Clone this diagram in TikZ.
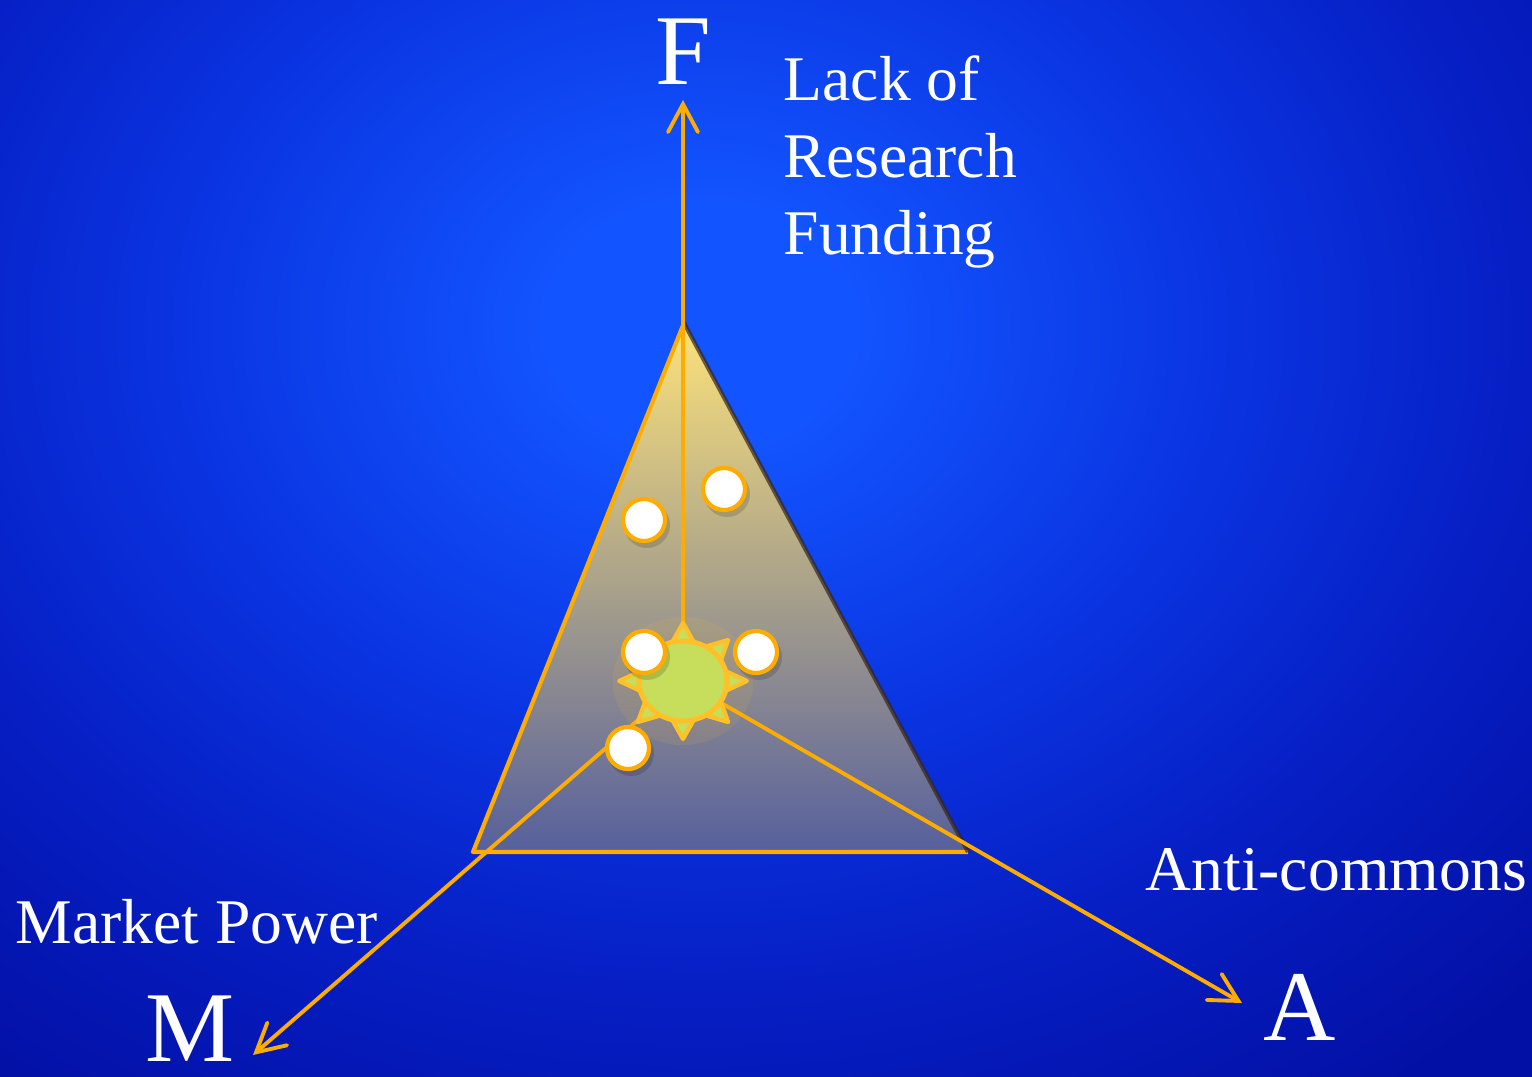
\documentclass[tikz,border=0pt]{standalone}
\usepackage{fontspec}
\setmainfont{Liberation Serif}
\usetikzlibrary{arrows.meta}
\definecolor{bgin}{RGB}{18,84,255}
\definecolor{bgmid}{RGB}{10,52,225}
\definecolor{bgout}{RGB}{6,30,195}
\definecolor{bgedge}{RGB}{3,16,165}
\definecolor{axorange}{RGB}{255,172,0}
\definecolor{triyellow}{RGB}{252,226,122}
\definecolor{trigray}{RGB}{170,164,138}
\definecolor{triblue}{RGB}{86,96,156}
\definecolor{sungreen}{RGB}{198,222,92}
\definecolor{sunrim}{RGB}{255,192,40}
\pgfdeclareradialshading{bgshade}{\pgfpoint{0cm}{0cm}}{color(0bp)=(bgin); color(3bp)=(bgin); color(10bp)=(bgmid); color(16bp)=(bgout); color(22.5bp)=(bgedge); color(50bp)=(bgedge)}

\begin{document}
\begin{tikzpicture}[
  axis/.style={draw=axorange, line width=1.1pt,
               -{Straight Barb[length=2.8mm, width=3.0mm, line cap=round]}},
  dot/.style={circle, fill=white, draw=axorange, line width=1.2pt,
              minimum size=0.42cm, inner sep=0pt},
  ray/.style={fill=sungreen, draw=sunrim, line width=1.2pt, line join=round},
  biglab/.style={font=\fontsize{28.5}{34}\selectfont, text=white, inner sep=0pt},
  lab/.style={font=\fontsize{18.1}{21.9}\selectfont, text=white, inner sep=0pt, align=left}
]
\useasboundingbox (0,0) rectangle (15.32,10.76);

% Background
\begin{scope}
  \clip (0,0) rectangle (15.32,10.76);
  \shade[shading=bgshade] (7.0,7.5) ellipse (13 and 10.5);
\end{scope}

% Corners
\coordinate (top) at (6.84,7.53);
\coordinate (bl)  at (4.73,2.24);
\coordinate (br)  at (9.68,2.24);
\coordinate (o)   at (6.83,3.95);
\coordinate (ftip) at (6.83,9.76);
\coordinate (mtip) at (2.53,0.21);
\coordinate (atip) at (12.42,0.73);

% Triangle
\shade[top color=triyellow, middle color=trigray, bottom color=triblue]
  (top) -- (bl) -- (br) -- cycle;
\draw[axorange, line width=1.2pt, line join=round] (br) -- (bl) -- (top);
\draw[black!70!brown, line width=1.2pt, opacity=0.7] (top) -- (br);

% Axes
\draw[axis] (o) -- (ftip);
\draw[axis] (o) -- (mtip);
\draw[axis] (o) -- (atip);

% Sun
\begin{scope}[shift={(o)}, xscale=1.1]
  \fill[sunrim, opacity=0.10] (0,0) circle (0.64);
  \foreach \a in {0,45,...,315}
    \filldraw[ray] (\a-17:0.38) -- (\a:0.58) -- (\a+17:0.38) -- cycle;
  \filldraw[fill=sungreen, draw=sunrim, line width=1.4pt] (0,0) circle (0.40);
\end{scope}

% Points
\foreach \p/\x/\y in {d1/6.44/5.56, d2/7.24/5.87, d3/6.44/4.24, d4/7.56/4.24, d5/6.28/3.28}
  \fill[black, opacity=0.15] (\x+0.03,\y-0.05) circle (0.23);
\node[dot] (d1) at (6.44,5.56) {};
\node[dot] (d2) at (7.24,5.87) {};
\node[dot] (d3) at (6.44,4.24) {};
\node[dot] (d4) at (7.56,4.24) {};
\node[dot] (d5) at (6.28,3.28) {};

% Labels
\node[biglab, anchor=base] (flab) at (6.83,9.91) {F};
\node[biglab, anchor=base] (mlab) at (1.90,0.15) {M};
\node[biglab, anchor=base] (alab) at (13.00,0.36) {A};
\node[lab, anchor=north west] (funding) at (7.83,10.21) {Lack of\\Research\\Funding};
\node[lab, anchor=base west] (market) at (0.15,1.33) {Market Power};
\node[lab, anchor=base west] (anti) at (11.45,1.86) {Anti-commons};
\end{tikzpicture}
\end{document}
